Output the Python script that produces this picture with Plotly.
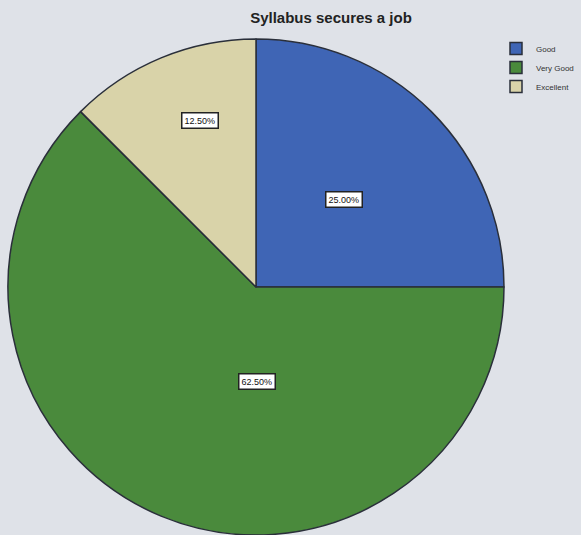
import math
import plotly.graph_objects as go

categories = ["Good", "Very Good", "Excellent"]
values = [25.0, 62.5, 12.5]
colors = ["#3f65b5", "#4a8a3c", "#d9d3a9"]
label_radius = [0.50, 0.38, 0.71]  # fraction of radius for boxed labels
label_shift = [0, -23, 4]           # angular shift (deg) for label placement

W, H = 581, 535
R = 248
CX, CY = 256, 248  # pixels from left / bottom

fig = go.Figure(go.Pie(
    labels=categories, values=values, sort=False, direction="clockwise",
    rotation=0, marker=dict(colors=colors, line=dict(color="#2a2f3a", width=1.5)),
    textinfo="none", hoverinfo="label+percent",
    domain=dict(x=[0, 2 * CX / W], y=[0, 2 * CY / H]),
))

total = sum(values)
cum = 0.0
for v, f, s in zip(values, label_radius, label_shift):
    mid = (cum + v / 2) / total * 360 + s
    cum += v
    a = math.radians(mid)
    x = (CX + f * R * math.sin(a)) / W
    y = (CY + f * R * math.cos(a)) / H
    fig.add_annotation(x=x, y=y, xref="paper", yref="paper", showarrow=False,
                       xanchor="center", yanchor="middle",
                       text=f"{v / total * 100:.2f}%",
                       font=dict(family="Liberation Sans", size=9, color="#111"),
                       bgcolor="white", bordercolor="#222", borderwidth=1.5, borderpad=2)

fig.update_layout(
    width=W, height=H, margin=dict(l=0, r=0, t=0, b=0),
    paper_bgcolor="#dfe2e8", plot_bgcolor="#dfe2e8",
    title=dict(text="<b>Syllabus secures a job</b>", x=331 / W, xanchor="center",
               y=1 - 18 / H, yanchor="middle",
               font=dict(family="Liberation Sans", size=15, color="#222")),
    legend=dict(x=496 / W, y=1 - 34 / H, xanchor="left", yanchor="top",
                font=dict(family="Liberation Sans", size=8, color="#333"),
                bgcolor="rgba(0,0,0,0)", itemwidth=30, tracegroupgap=0),
    showlegend=True,
)

fig.write_html("out.html", config={"displayModeBar": False},
               post_script="document.body.style.margin='0';document.body.style.overflow='hidden';")
